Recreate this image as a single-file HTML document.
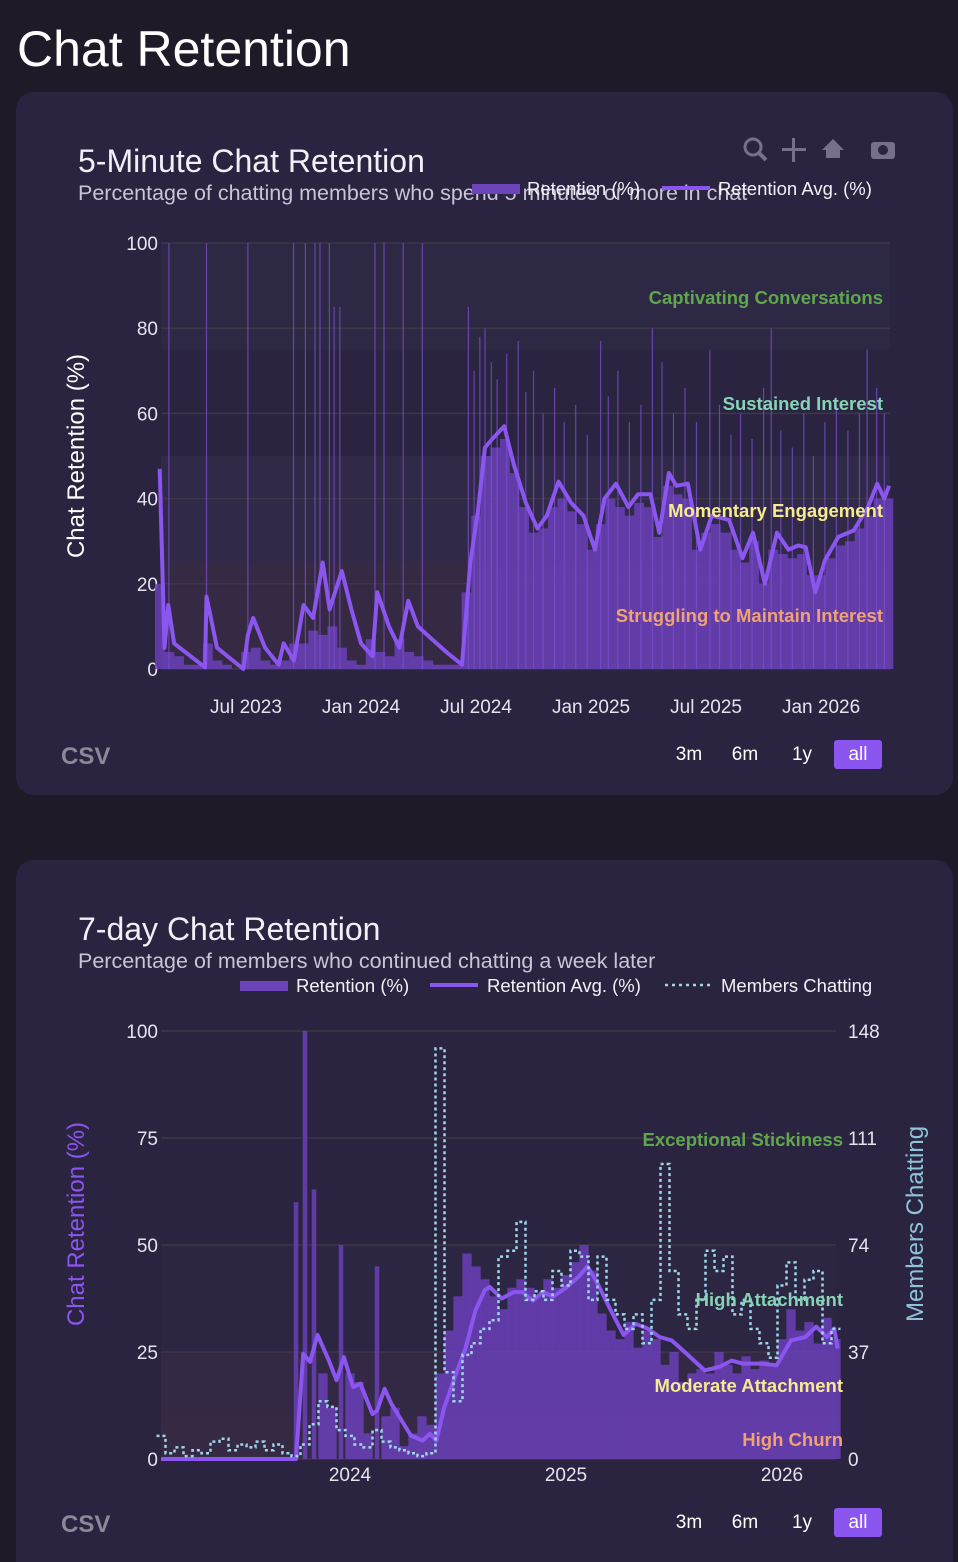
<!DOCTYPE html>
<html><head><meta charset="utf-8">
<style>
html,body{margin:0;padding:0;background:#1e1a28;width:958px;height:1562px;overflow:hidden;font-family:"Liberation Sans",sans-serif;}
svg text{font-family:"Liberation Sans",sans-serif;}
</style></head>
<body>
<svg id="root" width="958" height="1562" viewBox="0 0 958 1562" xmlns="http://www.w3.org/2000/svg">
<rect x="0" y="0" width="958" height="1562" fill="#1e1a28"/>
<text x="17" y="66" font-size="50" fill="#ffffff">Chat Retention</text>

<!-- Card 1 -->
<rect x="16" y="92" width="937" height="703" rx="18" fill="#2a2440"/>
<text x="78" y="172" font-size="32" fill="#f2f0f7">5-Minute Chat Retention</text>
<text x="78" y="200" font-size="21.5" fill="#c9c4d6">Percentage of chatting members who spend 5 minutes or more in chat</text>
<g fill="#77708a">
  <g><circle cx="753" cy="147" r="8" fill="none" stroke="#77708a" stroke-width="3"/><line x1="759" y1="153" x2="766" y2="160" stroke="#77708a" stroke-width="4"/></g>
  <g><rect x="792" y="138" width="3" height="24"/><rect x="782" y="148" width="24" height="3"/></g>
  <g><polygon points="822,150 833,139 844,150 840,150 840,158 826,158 826,150"/></g>
  <g><rect x="871" y="142" width="24" height="17" rx="3"/><circle cx="883" cy="150" r="5" fill="#2a2440"/></g>
</g>
<g>
  <rect x="472" y="184" width="48" height="10" fill="#6a44b8"/>
  <text x="527" y="195" font-size="18.5" fill="#f2f0f7">Retention (%)</text>
  <rect x="662" y="186" width="48" height="4" fill="#8b55f0"/>
  <text x="718" y="195" font-size="18.5" fill="#f2f0f7">Retention Avg. (%)</text>
</g>
<g id="c1"></g>
<text transform="translate(84,456) rotate(-90)" text-anchor="middle" font-size="24" fill="#ffffff">Chat Retention (%)</text>
<text x="61" y="764" font-size="24" font-weight="bold" fill="#8c8799">CSV</text>
<g>
  <text x="689" y="760" font-size="19" fill="#ffffff" text-anchor="middle">3m</text>
  <text x="745" y="760" font-size="19" fill="#ffffff" text-anchor="middle">6m</text>
  <text x="802" y="760" font-size="19" fill="#ffffff" text-anchor="middle">1y</text>
  <rect x="834" y="740" width="48" height="29" rx="3" fill="#8b55f0"/>
  <text x="858" y="760" font-size="19" fill="#ffffff" text-anchor="middle">all</text>
</g>

<!-- Card 2 -->
<rect x="16" y="860" width="937" height="720" rx="18" fill="#2a2440"/>
<text x="78" y="940" font-size="32" fill="#f2f0f7">7-day Chat Retention</text>
<text x="78" y="968" font-size="21.5" fill="#c9c4d6">Percentage of members who continued chatting a week later</text>
<g>
  <rect x="240" y="981" width="48" height="10" fill="#6a44b8"/>
  <text x="296" y="992" font-size="18.5" fill="#f2f0f7">Retention (%)</text>
  <rect x="430" y="983" width="48" height="4" fill="#8b55f0"/>
  <text x="487" y="992" font-size="18.5" fill="#f2f0f7">Retention Avg. (%)</text>
  <line x1="665" y1="985" x2="710" y2="985" stroke="#9fd6ea" stroke-width="2.5" stroke-dasharray="3,4"/>
  <text x="721" y="992" font-size="18.5" fill="#f2f0f7">Members Chatting</text>
</g>
<g id="c2"></g>
<text transform="translate(84,1224) rotate(-90)" text-anchor="middle" font-size="24" fill="#8b55f0">Chat Retention (%)</text>
<text transform="translate(923,1224) rotate(-90)" text-anchor="middle" font-size="24" fill="#8fc3d8">Members Chatting</text>
<text x="61" y="1532" font-size="24" font-weight="bold" fill="#8c8799">CSV</text>
<g>
  <text x="689" y="1528" font-size="19" fill="#ffffff" text-anchor="middle">3m</text>
  <text x="745" y="1528" font-size="19" fill="#ffffff" text-anchor="middle">6m</text>
  <text x="802" y="1528" font-size="19" fill="#ffffff" text-anchor="middle">1y</text>
  <rect x="834" y="1508" width="48" height="29" rx="3" fill="#8b55f0"/>
  <text x="858" y="1528" font-size="19" fill="#ffffff" text-anchor="middle">all</text>
</g>
</svg>
<script>
// ===== Chart 1 data (months since Jan 2023) =====
const c1XTicks = ["Jul 2023","Jan 2024","Jul 2024","Jan 2025","Jul 2025","Jan 2026"];
const c1XTickMonths = [6,12,18,24,30,36];
const c1YTicks = [0,20,40,60,80,100];
const c1BarStart = 1.5;
const c1BarStep = 0.5;
const c1Bars = [20,4,3,1,1,6,2,1,0,4,5,2,1,2,6,6,9,8,10,5,2,1,7,4,3,7,4,3,2,1,1,1,
  18,36,50,52,54,46,38,32,33,38,40,37,34,28,34,40,38,36,39,38,31,43,41,40,28,32,34,32,28,25,30,20,28,27,26,27,22,22,26,29,30,33,36,40,40];
const c1SpikeMonths = [1.98,3.94,6.1,8.48,9.1,9.6,9.86,10.35,10.6,10.9,12.73,13.2,14.2,15.2,17.6,18.47,20.2,24.5,27.2,30.2,33.4,38.4,
  17.9,18.2,18.8,19.1,19.6,20.6,21.0,21.5,22.1,22.6,23.2,23.8,24.9,25.4,26.0,26.6,27.7,28.3,28.9,29.5,30.7,31.3,31.8,32.4,33.0,33.9,34.5,35.1,35.6,36.2,36.8,37.4,38.0,38.9,39.3];
const c1SpikeVals = [100,100,100,100,100,100,100,100,85,85,100,100,100,100,85,80,77,77,80,75,80,75,
  70,78,72,68,74,65,70,60,66,58,62,55,64,70,58,62,72,60,66,58,62,55,60,54,66,56,52,60,50,58,62,56,60,66,60];
const c1AvgMonths = [1.5,1.75,1.95,2.25,3.86,3.94,4.49,5.86,6.1,6.37,7.0,7.7,7.97,8.5,9.0,9.5,10.0,10.36,11.0,11.5,12.0,12.6,12.85,13.46,14.0,14.47,14.97,15.7,16.45,17.27,17.7,18.1,18.47,18.85,19.47,19.97,20.6,21.2,21.7,22.3,22.96,23.6,24.2,24.7,25.3,25.95,26.45,27.1,27.56,28.06,28.45,29.05,29.7,30.3,31.2,31.9,32.45,33.07,33.7,34.3,34.8,35.2,35.7,36.2,36.9,37.7,38.45,38.93,39.3,39.55];
const c1AvgVals = [47,5,15,6,0.4,17,5,0,8,12,5,1,6,2,15,12,25,14,23,14,6,3,18,10,5,16,10,7,4,1,25,37,52,54,57,48,39,33,36,44,39,36,28,40,43.5,38,41,41,32,46,43,43.5,28,36,35,26,32,20,32,28,29,28.6,18,25.5,31,32.5,38,43.5,40,43];
const c1Bands = [0,25,50,75,100];
const c1BandLabels = ["Struggling to Maintain Interest","Momentary Engagement","Sustained Interest","Captivating Conversations"];

// ===== Chart 2 data =====
const c2XTicks = ["2024","2025","2026"];
const c2XTickMonths = [12,24,36];
const c2YTicks = [0,25,50,75,100];
const c2Y2Ticks = [0,37,74,111,148];
const c2BarStart = 1.5;
const c2BarStep = 0.5;
const c2Bars = [0,0,0,0,0,0,0,0,0,0,0,0,0,0,0,
  60,100,63,20,12,50,20,18,6,45,10,12,3,6,10,8,20,30,38,48,45,42,38,35,40,42,40,38,42,40,43,46,50,44,34,30,28,32,26,30,28,22,25,18,20,21,20,25,22,20,24,21,23,22,28,35,30,32,27,33,28];
const c2Members = [8,2,4,1,3,2,6,7,3,5,4,6,3,5,2,1,
  5,12,20,18,10,8,5,4,10,6,4,3,2,1,2,
  142,30,20,36,40,45,48,70,72,82,55,58,55,65,60,72,70,55,70,55,50,45,50,40,55,102,65,50,45,55,72,65,70,50,55,45,40,35,60,68,55,62,65,40,45];
const c2AvgMonths = [1.5,9.0,9.4,9.78,10.2,10.83,11.25,11.66,12.17,12.58,13.25,13.5,13.92,14.3,15.38,16.04,16.44,16.8,17.24,17.9,18.43,18.97,19.5,19.76,20.43,21.1,21.6,22.16,22.7,23.3,24,24.7,25.2,25.75,26.4,27.2,27.87,28.53,29.2,29.87,30.7,31.7,32.5,33.2,33.8,34.9,35.7,36.5,37.3,37.9,38.5,38.9,39.1];
const c2AvgVals = [0,0,24.6,22.7,29,23,18.4,23.8,16.8,17.6,10.5,11.3,16.4,12.9,5.5,4.3,5.9,4.3,12.1,20,26,34.8,39.5,40.2,37.5,39,39,37,39,38,40,42.6,45,41,35.5,29,31.6,30.5,28.5,27.7,24.6,20.7,21.5,23,22.3,22.3,21.9,27.7,28.5,30.9,28.5,30.5,25.8];
const c2Bands = [0,10,25,50,100];
const c2BandLabels = ["High Churn","Moderate Attachment","High Attachment","Exceptional Stickiness"];

const NS = "http://www.w3.org/2000/svg";
function mk(parent, tag, attrs){const e=document.createElementNS(NS,tag);for(const k in attrs)e.setAttribute(k,attrs[k]);parent.appendChild(e);return e;}

// ===== Chart 1 =====
(function(){
  const g=document.getElementById('c1');
  const L=161,R=890,T=243,B=669;
  const x=m=>361+(m-12)*19.17;
  const y=v=>B-(v/100)*(B-T);
  mk(g,'rect',{x:L,y:T,width:R-L,height:B-T,fill:'#2c2742'});
  const bandFills=['#3a2b45','#332a4a','#2a2440','#2e2944'];
  const bandColors=['#f0a274','#f6ec8c','#86d3b5','#5fa64e'];
  const labelY=[615,510,403,297];
  for(let i=0;i<4;i++){
    const r=mk(g,'rect',{x:L,y:y(c1Bands[i+1]),width:R-L,height:y(c1Bands[i])-y(c1Bands[i+1]),fill:bandFills[i],opacity:0.8});
    
    
  }
  c1YTicks.forEach(v=>{
    const l=mk(g,'line',{x1:L,x2:R,y1:y(v),y2:y(v),stroke:'#3d3748','stroke-width':1.5});
    
    
    const t=mk(g,'text',{x:158,y:y(v)+7,'font-size':19,fill:'#e6e3ee','text-anchor':'end'});
    t.textContent=v;
    
    
  });
  c1XTicks.forEach((s,i)=>{
    const t=mk(g,'text',{x:x(c1XTickMonths[i]),y:713,'font-size':19,fill:'#e6e3ee','text-anchor':'middle'});
    t.textContent=s;
    
    
  });
  const w=c1BarStep*19.17;
  c1Bars.forEach((v,i)=>{
    const m=c1BarStart+i*c1BarStep;
    const r=mk(g,'rect',{x:x(m)-w/2,y:y(v),width:w+0.3,height:B-y(v),fill:'#6a40b8',opacity:0.85});
    
    
  });
  c1SpikeMonths.forEach((m,i)=>{
    const l=mk(g,'line',{x1:x(m),x2:x(m),y1:y(c1SpikeVals[i]),y2:B,stroke:'#7a4fd0','stroke-width':1.2,opacity:0.75});
    
    
  });
  const pts=c1AvgMonths.map((m,i)=>x(m).toFixed(1)+','+y(c1AvgVals[i]).toFixed(1)).join(' ');
  const pl=mk(g,'polyline',{points:pts,fill:'none',stroke:'#8b55f0','stroke-width':4,'stroke-linejoin':'round'});
  
  
  c1BandLabels.forEach((s,i)=>{
    const t=mk(g,'text',{x:883,y:labelY[i]+7,'font-size':18.5,'font-weight':'bold',fill:bandColors[i],'text-anchor':'end'});
    t.textContent=s;
    
    
  });
})();

// ===== Chart 2 =====
(function(){
  const g=document.getElementById('c2');
  const L=161,R=836,T=1031,B=1459;
  const x=m=>350+(m-12)*18;
  const y=v=>B-(v/100)*(B-T);
  const y2=v=>B-(v/148)*(B-T);
  mk(g,'rect',{x:L,y:T,width:R-L,height:B-T,fill:'#2a2440'});
  const bandFills=['#3a2b45','#372a45','#2d2742','#2a2440'];
  const bandColors=['#f0a274','#f6ec8c','#86d3b5','#5fa64e'];
  const labelY=[1439,1385,1299,1139];
  for(let i=0;i<4;i++){
    const r=mk(g,'rect',{x:L,y:y(c2Bands[i+1]),width:R-L,height:y(c2Bands[i])-y(c2Bands[i+1]),fill:bandFills[i],opacity:0.8});
    
    
  }
  c2YTicks.forEach(v=>{
    const l=mk(g,'line',{x1:L,x2:R,y1:y(v),y2:y(v),stroke:'#3d3748','stroke-width':1.5});
    
    
    const t=mk(g,'text',{x:158,y:y(v)+7,'font-size':19,fill:'#e6e3ee','text-anchor':'end'});
    t.textContent=v;
    
    
  });
  c2Y2Ticks.forEach(v=>{
    const t=mk(g,'text',{x:848,y:y2(v)+7,'font-size':19,fill:'#e6e3ee'});
    t.textContent=v;
    
    
  });
  c2XTicks.forEach((s,i)=>{
    const t=mk(g,'text',{x:x(c2XTickMonths[i]),y:1481,'font-size':19,fill:'#e6e3ee','text-anchor':'middle'});
    t.textContent=s;
    
    
  });
  const w=c2BarStep*18;
  c2Bars.forEach((v,i)=>{
    const m=c2BarStart+i*c2BarStep;
    const big=v>=45 && m<17;
    const bw=big?w*0.5:w+0.3;
    const r=mk(g,'rect',{x:x(m)-bw/2,y:y(v),width:bw,height:B-y(v),fill:'#6a40b8',opacity:0.85});
    
    
  });
  const pts=c2AvgMonths.map((m,i)=>x(m).toFixed(1)+','+y(c2AvgVals[i]).toFixed(1)).join(' ');
  const pl=mk(g,'polyline',{points:pts,fill:'none',stroke:'#8b55f0','stroke-width':4,'stroke-linejoin':'round'});
  
  
  let d='';
  c2Members.forEach((v,i)=>{
    const m=c2BarStart+i*c2BarStep;
    const X0=x(m-c2BarStep/2).toFixed(1), X1=x(m+c2BarStep/2).toFixed(1), Y=y2(v).toFixed(1);
    d+=(i===0?'M'+X0+','+Y:'V'+Y)+'H'+X1;
  });
  const mp=mk(g,'path',{d:d,fill:'none',stroke:'#9fd6ea','stroke-width':2.5,'stroke-dasharray':'3,3'});
  
  
  c2BandLabels.forEach((s,i)=>{
    const t=mk(g,'text',{x:843,y:labelY[i]+7,'font-size':18.5,'font-weight':'bold',fill:bandColors[i],'text-anchor':'end'});
    t.textContent=s;
    
    
  });
})();
</script>
</body></html>
